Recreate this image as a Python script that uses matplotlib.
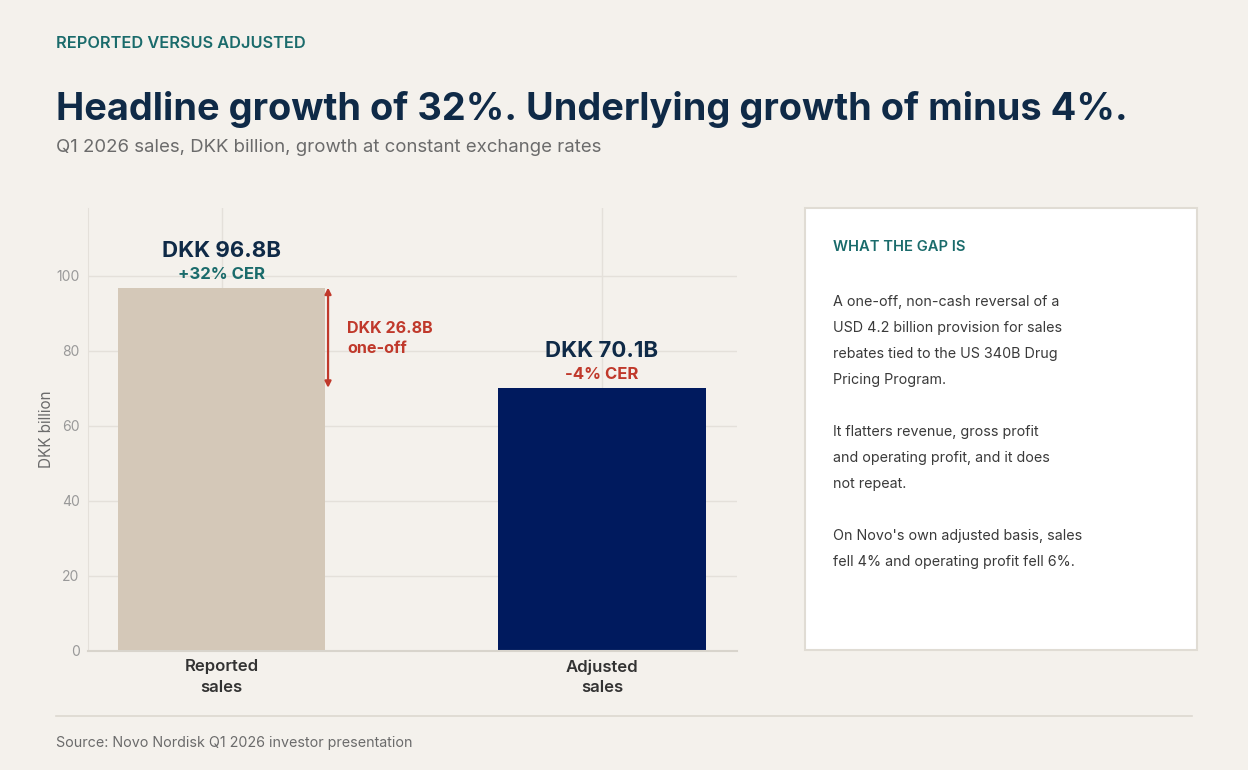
import matplotlib.pyplot as plt
from matplotlib.patches import Rectangle

# data
categories = ["Reported\nsales", "Adjusted\nsales"]
sales = [96.8, 70.1]
value_labels = ["DKK 96.8B", "DKK 70.1B"]
growth_labels = ["+32% CER", "-4% CER"]
one_off = 26.8
y_ticks = [0, 20, 40, 60, 80, 100]

BG = "#f4f1ec"
NAVY = "#0f2a47"
TEAL = "#1a6b6b"
RED = "#c0392b"
GRAY = "#6b6b6b"
bar_colors = ["#d4c8b8", "#001a5e"]
growth_colors = [TEAL, RED]

plt.rcParams['font.family'] = ['Inter', 'DejaVu Sans']

W, H = 1248, 770
fig = plt.figure(figsize=(W / 100, H / 100), dpi=100, facecolor=BG)


def fx(px):
    return px / W


def fy(py):
    # +2 px: va="center" sits a touch high for these fonts
    return 1 - (py + 2) / H


# header
fig.text(fx(56), fy(42), "REPORTED VERSUS ADJUSTED", color=TEAL, fontsize=11.8,
         fontweight="semibold", va="center", ha="left")
fig.text(fx(56), fy(107), "Headline growth of 32%. Underlying growth of minus 4%.",
         color=NAVY, fontsize=27.3, fontweight="bold", va="center", ha="left")
fig.text(fx(56), fy(146), "Q1 2026 sales, DKK billion, growth at constant exchange rates",
         color=GRAY, fontsize=13.4, va="center", ha="left")

# main chart
ax = fig.add_axes([88 / W, 1 - 651 / H, 649 / W, 443 / H])
ax.set_facecolor(BG)
x = [0, 1]
ax.bar(x, sales, width=0.545, color=bar_colors, zorder=2)
ax.set_xlim(-0.351, 1.355)
ax.set_ylim(0, 118)
ax.set_yticks(y_ticks)
ax.set_xticks(x)
ax.set_xticklabels(categories, fontsize=12, fontweight="semibold", color="#333333",
                   linespacing=1.45)
ax.tick_params(axis="y", length=0, labelsize=10, labelcolor="#999999", pad=6)
ax.tick_params(axis="x", length=0, pad=6)
ax.grid(True, color="#e4e0da", linewidth=1, zorder=0)
for s in ["top", "right"]:
    ax.spines[s].set_visible(False)
ax.spines["left"].set_color("#e4e0da")
ax.spines["bottom"].set_color("#d8d4cc")
ax.spines["bottom"].set_linewidth(1.5)
ax.set_ylabel("DKK billion", fontsize=11, color=GRAY, labelpad=2)

for i, v in enumerate(sales):
    ax.annotate(value_labels[i], (x[i], v), xytext=(0, 26.5), textcoords="offset points",
                ha="center", va="center", fontsize=16, fontweight="bold", color=NAVY)
    ax.annotate(growth_labels[i], (x[i], v), xytext=(0, 9.5), textcoords="offset points",
                ha="center", va="center", fontsize=12, fontweight="bold",
                color=growth_colors[i])

# one-off gap arrow
arrow_x = 0.28
ax.annotate("", xy=(arrow_x, sales[0]), xytext=(arrow_x, sales[1]),
            arrowprops=dict(arrowstyle="<|-|>", color=RED, lw=1.6,
                            mutation_scale=9, shrinkA=0, shrinkB=0))
ax.text(arrow_x + 0.05, (sales[0] + sales[1]) / 2 - 0.3,
        f"DKK {one_off}B\none-off", color=RED, fontsize=11.6, fontweight="bold",
        ha="left", va="center", linespacing=1.4)

# side panel
panel = Rectangle((808 / W, 1 - 650 / H), 389 / W, 442 / H,
                  transform=fig.transFigure, facecolor="white", edgecolor="#e0dcd4",
                  linewidth=1.5)
panel.set_x(805 / W)
panel.set_width(392 / W)
fig.add_artist(panel)
fig.text(fx(833), fy(245), "WHAT THE GAP IS", color=TEAL, fontsize=10.6,
         fontweight="semibold", va="center", ha="left")
body = [
    (300, "A one-off, non-cash reversal of a"),
    (326, "USD 4.2 billion provision for sales"),
    (352, "rebates tied to the US 340B Drug"),
    (378, "Pricing Program."),
    (430, "It flatters revenue, gross profit"),
    (456, "and operating profit, and it does"),
    (482, "not repeat."),
    (534, "On Novo's own adjusted basis, sales"),
    (560, "fell 4% and operating profit fell 6%."),
]
for py, line in body:
    fig.text(fx(833), fy(py), line, color="#3a3a3a", fontsize=10.3, va="center", ha="left")

# footer
fig.add_artist(plt.Line2D([56 / W, 1192 / W], [1 - 716 / H, 1 - 716 / H],
                          transform=fig.transFigure, color="#dcd8d0", linewidth=1.2))
fig.text(fx(56), fy(741), "Source: Novo Nordisk Q1 2026 investor presentation",
         color=GRAY, fontsize=10.3, va="center", ha="left")

fig.savefig("out.png", dpi=100, facecolor=BG)
